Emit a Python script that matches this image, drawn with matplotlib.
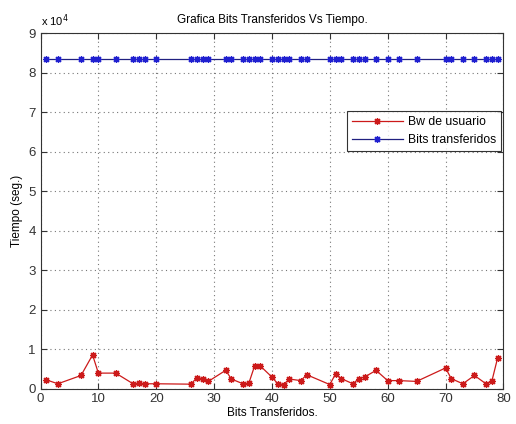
import numpy as np
import matplotlib.pyplot as plt
from matplotlib.ticker import FuncFormatter

plt.rcParams['font.family'] = ['Liberation Sans', 'DejaVu Sans']

# datos
x = [1, 3, 7, 9, 10, 13, 16, 17, 18, 20, 26, 27, 28, 29, 32, 33, 35, 36, 37, 38,
     40, 41, 42, 43, 45, 46, 50, 51, 52, 54, 55, 56, 58, 60, 62, 65, 70, 71, 73,
     75, 77, 78, 79]
bw_usuario = [2200, 1200, 3300, 8500, 3900, 3900, 1200, 1300, 1200, 1200, 1100,
              2700, 2500, 1800, 4600, 2400, 1200, 1300, 5700, 5700, 2900, 1200,
              1000, 2400, 2000, 3500, 1000, 3700, 2500, 1200, 2500, 2900, 4600,
              2000, 2000, 1800, 5200, 2500, 1200, 3300, 1200, 1800, 7700]
bits_transferidos = [83500] * len(x)

fig = plt.figure(figsize=(5.16, 4.24), dpi=100)
ax = fig.add_axes([0.0785, 0.0837, 0.897, 0.838])

ax.plot(x, bw_usuario, color='#cc1a1a', marker=(8, 2, 0), markersize=5,
        markeredgewidth=0.9, linewidth=0.9, label='Bw de usuario')
ax.plot(x, bits_transferidos, color='#202080', marker=(8, 2, 0), markersize=5,
        markeredgewidth=0.9, markeredgecolor='#2020d0', linewidth=0.9,
        label='Bits transferidos')

ax.set_xlim(0, 80)
ax.set_ylim(0, 90000)
ax.set_xticks(np.arange(0, 81, 10))
ax.set_yticks(np.arange(0, 90001, 10000))
ax.yaxis.set_major_formatter(FuncFormatter(lambda v, p: f"{v / 1e4:g}"))
ax.tick_params(direction='in', labelsize=9.5, length=4, top=True, right=True,
               colors='#333333')
ax.grid(True, linestyle=(0, (1, 3)), color='#777777', linewidth=0.8)
for s in ax.spines.values():
    s.set_color('#333333')

ax.text(0.0, 1.02, r'x 10$^{4}$', transform=ax.transAxes, fontsize=8)
ax.set_title('Grafica Bits Transferidos Vs Tiempo.', fontsize=8.5, pad=7)
ax.set_xlabel('Bits Transferidos.', fontsize=8.5, labelpad=1)
ax.set_ylabel('Tiempo (seg.)', fontsize=8.5, labelpad=4)

leg = ax.legend(loc='upper right', bbox_to_anchor=(0.995, 0.78), fontsize=8.8,
                frameon=True, fancybox=False, edgecolor='black',
                borderaxespad=0, handlelength=4.2, handletextpad=0.4)
leg.get_frame().set_linewidth(0.8)

plt.savefig('out.png', dpi=100)
